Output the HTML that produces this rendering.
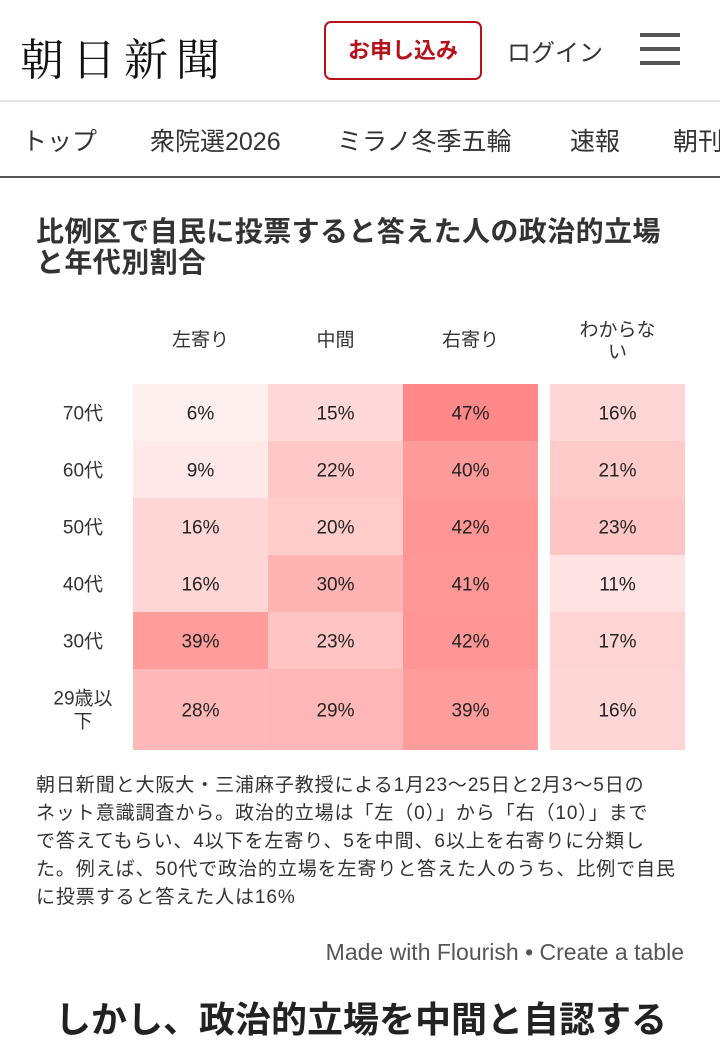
<!DOCTYPE html>
<html><head><meta charset="utf-8"><style>
body{margin:0;width:720px;height:1022px;overflow:hidden;background:#fff;font-family:"Liberation Sans","Noto Sans CJK JP",sans-serif;color:#333;position:relative}
.a{position:absolute;white-space:nowrap}
</style></head><body>
<div class="a" style="left:20px;top:24px;font-family:'Noto Serif CJK SC',serif;font-size:44px;color:#111;letter-spacing:8px">朝日新聞</div>
<div class="a" style="left:324px;top:21px;width:154px;height:55px;border:2px solid #b5121b;border-radius:7px;color:#b5121b;font-size:22px;font-weight:bold;line-height:55px;text-align:center">お申し込み</div>
<div class="a" style="left:507px;top:33px;font-size:24px;color:#333">ログイン</div>
<div class="a" style="left:640px;top:33px;width:40px;height:32px">
<div style="height:4px;background:#555;margin-bottom:10px"></div><div style="height:4px;background:#555;margin-bottom:10px"></div><div style="height:4px;background:#555"></div></div>
<div class="a" style="left:0;top:100px;width:720px;height:2px;background:#e4e4e4"></div>
<div class="a" style="left:0;top:122px;font-size:25px;color:#333;width:720px">
<span class="a" style="left:22px">トップ</span>
<span class="a" style="left:150px">衆院選2026</span>
<span class="a" style="left:337px">ミラノ冬季五輪</span>
<span class="a" style="left:570px">速報</span>
<span class="a" style="left:673px">朝刊</span></div>
<div class="a" style="left:0;top:176px;width:720px;height:2px;background:#555"></div>
<div class="a" style="left:36px;top:216px;font-size:28px;letter-spacing:0.4px;font-weight:bold;line-height:31px;color:#333">比例区で自民に投票すると答えた人の政治的立場<br>と年代別割合</div>
<svg class="a" style="left:0;top:300px" width="720" height="460" id="hm"></svg>
<div class="a" style="left:36px;top:772px;font-size:19px;letter-spacing:0.9px;line-height:28px;color:#333">朝日新聞と大阪大・三浦麻子教授による1月23～25日と2月3～5日の<br>ネット意識調査から。政治的立場は「左（0）」から「右（10）」まで<br>で答えてもらい、4以下を左寄り、5を中間、6以上を右寄りに分類し<br>た。例えば、50代で政治的立場を左寄りと答えた人のうち、比例で自民<br>に投票すると答えた人は16%</div>
<div class="a" style="right:36px;top:939px;font-size:23px;color:#555">Made with Flourish • Create a table</div>
<div class="a" style="left:55px;top:991px;font-size:36px;font-weight:bold;color:#222">しかし、政治的立場を中間と自認する</div>
<script>
const cols=["左寄り","中間","右寄り","わからない"];
const rows=["70代","60代","50代","40代","30代","29歳以下"];
const left=[6,9,16,16,39,28];
const mid=[15,22,20,30,23,29];
const right=[47,40,42,41,42,39];
const unk=[16,21,23,11,17,16];
const series=[left,mid,right,unk];
const NS="http://www.w3.org/2000/svg";
const svg=document.getElementById('hm');
const colX=[133,268,403,550],cw=135;
const rowY=[84,141,198,255,312,369,450];
function color(v){const t=Math.min(v/47,1);const g=Math.round(255-t*(255-136));return `rgb(255,${g},${g})`;}
function mk(tag,at){const e=document.createElementNS(NS,tag);for(const k in at)e.setAttribute(k,at[k]);svg.appendChild(e);return e;}
cols.forEach((c,i)=>{
  const t=mk('text',{x:colX[i]+cw/2,y:i==3?(rowY[0]-48):(rowY[0]-38),'text-anchor':'middle','font-size':19,fill:'#333'});
  
  
  if(i==3){t.innerHTML='<tspan x="'+(colX[i]+cw/2)+'">わからな</tspan><tspan x="'+(colX[i]+cw/2)+'" dy="22">い</tspan>';}else t.textContent=c;
});
rows.forEach((r,j)=>{
  const y0=rowY[j],y1=rowY[j+1],cy=(y0+y1)/2+7;
  const t=mk('text',{x:83,y:r.length>3?cy-12:cy,'text-anchor':'middle','font-size':19,fill:'#333'});
  
  
  if(r.length>3)t.innerHTML='<tspan x="83">29歳以</tspan><tspan x="83" dy="23">下</tspan>';else t.textContent=r;
  series.forEach((s,i)=>{
    const rc=mk('rect',{x:colX[i],y:y0,width:cw,height:y1-y0,fill:color(s[j])});
    
    
    const tx=mk('text',{x:colX[i]+cw/2,y:cy,'text-anchor':'middle','font-size':19,fill:'#222'});
    
    
    tx.textContent=s[j]+'%';
  });
});
</script>
</body></html>
